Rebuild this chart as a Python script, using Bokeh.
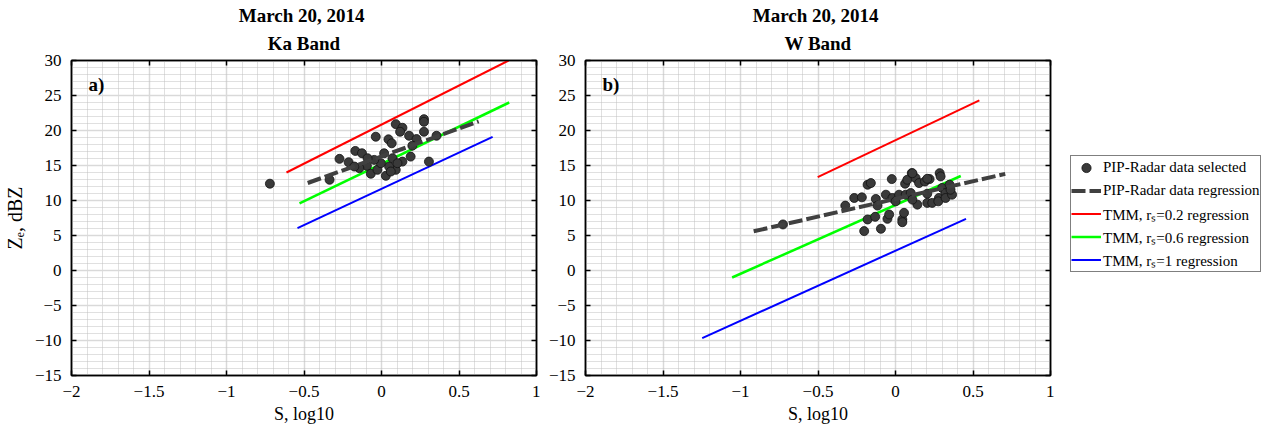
from bokeh.plotting import figure
from bokeh.layouts import row
from bokeh.models import (Title, Label, Legend, LegendItem, LinearAxis,
                          SingleIntervalTicker, Range1d)
from bokeh.embed import file_html
from bokeh.resources import INLINE

# ---------------- data ----------------
title_date = "March  20, 2014"
band_a = "Ka Band"
band_b = "W Band"

# Panel a (Ka band) PIP-Radar selected points
ka_s = [-0.335, -0.271, -0.212, -0.169, -0.126, -0.037, 0.045, 0.066, 0.092, 0.135,
        0.12, 0.178, 0.274, 0.274, 0.274, 0.355, 0.226, 0.199, 0.188, 0.135,
        0.306, -0.094, -0.069, -0.026, 0.028, 0.092, 0.049, -0.004, -0.047, 0.017,
        0.071, 0.103, 0.06, -0.143, -0.175, -0.09, -0.72]
ka_z = [12.96, 15.95, 15.47, 17.08, 16.75, 19.11, 18.74, 18.17, 20.91, 20.39,
        19.82, 19.25, 21.62, 21.24, 19.82, 19.25, 18.78, 17.83, 16.27, 15.56,
        15.56, 14.95, 13.82, 14.38, 13.53, 14.38, 14.85, 15.33, 15.8, 16.75,
        16.04, 15.33, 14.14, 14.62, 14.85, 16.04, 12.4]

# Panel a regression lines (end points)
ka_reg_s = [-0.476, 0.627]
ka_reg_z = [12.5, 21.3]
ka_r02_s = [-0.613, 0.82]
ka_r02_z = [14.0, 30.0]
ka_r06_s = [-0.529, 0.824]
ka_r06_z = [9.6, 24.0]
ka_r1_s = [-0.542, 0.717]
ka_r1_z = [6.05, 19.1]

# Panel b (W band) PIP-Radar selected points
w_s = [-0.726, -0.324, -0.266, -0.217, -0.18, -0.159, -0.202, -0.094, -0.18, -0.131,
       -0.127, -0.116, -0.062, -0.052, -0.041, -0.024, -0.02, 0.001, 0.023, 0.044,
       0.055, 0.062, 0.076, 0.066, 0.098, 0.105, 0.13, 0.141, 0.152, 0.109,
       0.19, 0.205, 0.22, 0.237, 0.205, 0.28, 0.276, 0.285, 0.291, 0.301,
       0.323, 0.323, 0.349, 0.365, 0.355, 0.205, 0.109, 0.044]
w_z = [6.58, 9.27, 10.36, 10.45, 12.25, 12.49, 5.63, 5.96, 7.29, 7.67,
       10.22, 9.27, 10.83, 7.38, 8.0, 13.06, 10.36, 9.88, 10.83, 7.29,
       8.24, 12.4, 12.96, 10.83, 11.07, 13.91, 13.2, 9.41, 12.49, 10.12,
       12.72, 9.66, 13.06, 9.66, 10.97, 10.36, 9.88, 13.91, 13.44, 11.79,
       11.07, 10.36, 12.25, 10.83, 11.54, 13.1, 13.9, 6.9]

# Panel b regression lines (end points)
w_reg_s = [-0.915, 0.708]
w_reg_z = [5.6, 13.8]
w_r02_s = [-0.502, 0.541]
w_r02_z = [13.35, 24.3]
w_r06_s = [-1.054, 0.421]
w_r06_z = [-1.0, 13.5]
w_r1_s = [-1.247, 0.455]
w_r1_z = [-9.65, 7.38]

legend_labels = ["PIP-Radar data selected", "PIP-Radar data regression",
                 "TMM, r\u209b=0.2 regression", "TMM, r\u209b=0.6 regression",
                 "TMM, r\u209b=1 regression"]

x_label = "S, log10"
y_label = "Z\u2091, dBZ"

SERIF = "Liberation Serif"

STY_SC = dict(size=9, fill_color="#3a3a3a", line_color="#111111", line_width=0.8)
STY_REG = dict(line_color="#404040", line_width=4, line_dash="14 4")
STY_R02 = dict(line_color="#ff0000", line_width=2)
STY_R06 = dict(line_color="#00ff00", line_width=2.5)
STY_R1 = dict(line_color="#0000ff", line_width=2)


def tick_only_axis(interval):
    return LinearAxis(ticker=SingleIntervalTicker(interval=interval, num_minor_ticks=5),
                      major_label_text_font_size="1px", major_label_text_color=None,
                      major_tick_in=5, major_tick_out=0,
                      major_tick_line_color="black", major_tick_line_width=1.5,
                      minor_tick_line_color=None, axis_line_color="black",
                      axis_line_width=1.5, major_label_standoff=0)


def make_panel(width, mb_left, mb_right, band, tag, s, z, reg, r02, r06, r1, ylab):
    p = figure(width=width, height=427, output_backend="svg", toolbar_location=None,
               x_range=Range1d(-2, 1), y_range=Range1d(-15, 30),
               min_border_left=mb_left, min_border_right=mb_right,
               min_border_top=60, min_border_bottom=52,
               background_fill_color="white", border_fill_color="white")
    p.xaxis.ticker = SingleIntervalTicker(interval=0.5, num_minor_ticks=5)
    p.yaxis.ticker = SingleIntervalTicker(interval=5, num_minor_ticks=5)
    for ax in (p.xaxis[0], p.yaxis[0]):
        ax.major_label_text_font = SERIF
        ax.major_label_text_font_size = "17px"
        ax.major_label_text_color = "black"
        ax.axis_label_text_font = SERIF
        ax.axis_label_text_font_size = "18px"
        ax.axis_label_text_font_style = "normal"
        ax.axis_label_text_color = "black"
        ax.axis_line_color = "black"
        ax.axis_line_width = 1.5
        ax.major_tick_in = 5
        ax.major_tick_out = 0
        ax.major_tick_line_color = "black"
        ax.major_tick_line_width = 1.5
        ax.minor_tick_line_color = None
        ax.major_label_standoff = 6
    p.xaxis[0].axis_label = x_label
    p.xaxis[0].axis_label_standoff = 4
    if ylab:
        p.yaxis[0].axis_label = ylab
        p.yaxis[0].axis_label_standoff = 6
        p.yaxis[0].axis_label_text_font_size = "20px"

    for g in (p.xgrid[0], p.ygrid[0]):
        g.grid_line_color = "#d9d9d9"
        g.grid_line_width = 1.5
        g.minor_grid_line_color = "#c0c0c0"
        g.minor_grid_line_dash = "1 1"
        g.minor_grid_line_width = 1

    p.add_layout(tick_only_axis(0.5), "above")
    p.add_layout(tick_only_axis(5), "right")
    p.outline_line_color = "black"
    p.outline_line_width = 1.5
    p.outline_line_alpha = 1

    p.add_layout(Title(text=band, align="center", text_font=SERIF, text_font_size="19px",
                       text_font_style="bold", text_color="black", standoff=6), "above")
    p.add_layout(Title(text=title_date, align="center", text_font=SERIF, text_font_size="19px",
                       text_font_style="bold", text_color="black", standoff=4), "above")

    p.line(r02[0], r02[1], **STY_R02)
    p.line(r06[0], r06[1], **STY_R06)
    p.line(r1[0], r1[1], **STY_R1)
    p.scatter(s, z, **STY_SC)
    p.line(reg[0], reg[1], **STY_REG)

    p.add_layout(Label(x=-1.89, y=26.6, text=tag, text_font=SERIF, text_font_size="19px",
                       text_font_style="bold", text_color="black", text_baseline="middle"))
    return p


pa = make_panel(540, 71, 2, band_a, "a)", ka_s, ka_z,
                (ka_reg_s, ka_reg_z), (ka_r02_s, ka_r02_z), (ka_r06_s, ka_r06_z),
                (ka_r1_s, ka_r1_z), y_label)
pb = make_panel(514, 45, 2, band_b, "b)", w_s, w_z,
                (w_reg_s, w_reg_z), (w_r02_s, w_r02_z), (w_r06_s, w_r06_z),
                (w_r1_s, w_r1_z), None)

# legend panel: a separate figure whose sample renderers reuse panel b's series,
# with ranges chosen so that only the legend itself is visible there
pc = figure(width=213, height=427, output_backend="svg", toolbar_location=None,
            x_range=Range1d(50, 51), y_range=Range1d(500, 501),
            min_border=0, x_axis_location=None, y_axis_location=None,
            background_fill_color="white", border_fill_color="white")
pc.outline_line_color = None
pc.xgrid.visible = False
pc.ygrid.visible = False
lr = [pc.scatter(w_s, w_z, **STY_SC), pc.line(w_reg_s, w_reg_z, **STY_REG),
      pc.line(w_r02_s, w_r02_z, **STY_R02), pc.line(w_r06_s, w_r06_z, **STY_R06),
      pc.line(w_r1_s, w_r1_z, **STY_R1)]
items = [LegendItem(label=lab, renderers=[r]) for lab, r in zip(legend_labels, lr)]
legend = Legend(items=items, location=(16, 103), margin=0, padding=0, spacing=0,
                glyph_width=30, glyph_height=23, label_standoff=2, label_height=23,
                label_text_font=SERIF, label_text_font_size="15px", label_text_color="black",
                border_line_color="black", border_line_width=1.2,
                background_fill_color="white", background_fill_alpha=1)
pc.add_layout(legend)

layout = row(pa, pb, pc, spacing=0)
open("out.html", "w").write(file_html(layout, INLINE))
